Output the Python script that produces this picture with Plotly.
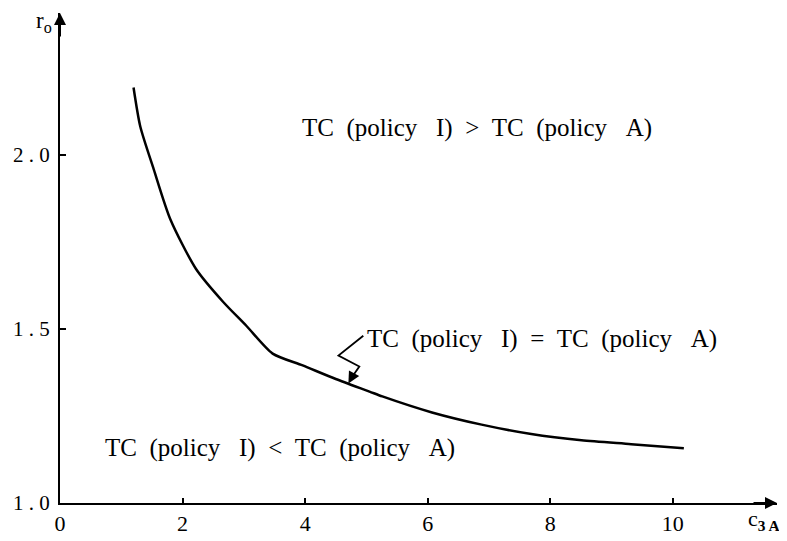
import plotly.graph_objects as go

# ---- data ----
c3A = [1.20, 1.31, 1.53, 1.80, 2.22, 2.66, 3.04, 3.47, 3.96, 4.50, 5.05,
       5.26, 6.07, 6.88, 7.69, 8.51, 9.32, 10.18]
r0 = [2.193, 2.081, 1.958, 1.815, 1.672, 1.578, 1.509, 1.429, 1.395, 1.356,
      1.320, 1.306, 1.260, 1.225, 1.198, 1.180, 1.169, 1.157]
x_ticks = [0, 2, 4, 6, 8, 10]
y_ticks = [1.0, 1.5, 2.0]
y_ticktext = ["1\u00a0.\u00a00", "1\u00a0.\u00a05", "2\u00a0.\u00a00"]

# page has an 8px body margin, so the figure is offset by 8px
OFF = 8
W, H = 787 - OFF, 541 - OFF
ML, MR, MT, MB = 56 - OFF, 10, 13 - OFF, 36
PW, PH = W - ML - MR, H - MT - MB

def px(x):  # page pixel -> paper
    return (x - 56) / PW

def py(y):
    return (505 - y) / PH

FONT = "Liberation Serif, Times New Roman, serif"

fig = go.Figure()
fig.add_trace(go.Scatter(x=c3A, y=r0, mode="lines",
                         line=dict(color="black", width=2.5, shape="spline", smoothing=0.7),
                         showlegend=False, hoverinfo="skip"))

fig.update_layout(
    width=W, height=H,
    margin=dict(l=ML, r=MR, t=MT, b=MB),
    paper_bgcolor="white", plot_bgcolor="white",
    font=dict(family=FONT, color="black", size=21),
    xaxis=dict(range=[0, 11.70], tickvals=x_ticks, ticks="inside", ticklen=5,
               tickwidth=1.5, tickcolor="black", showline=True, linecolor="black",
               linewidth=2, showgrid=False, zeroline=False,
               tickfont=dict(family=FONT, size=22)),
    yaxis=dict(range=[1.0, 2.407], tickvals=y_ticks, ticktext=y_ticktext, ticks="inside",
               ticklen=6, tickwidth=1.5, tickcolor="black", showline=True,
               linecolor="black", linewidth=2, showgrid=False, zeroline=False,
               tickfont=dict(family=FONT, size=21), ticklabelstandoff=4),
)

# axis arrows
fig.add_annotation(x=0, y=1.0, xref="paper", yref="paper", ax=0, ay=25,
                   showarrow=True, arrowhead=2, arrowsize=1.2, arrowwidth=2,
                   arrowcolor="black", text="")
fig.add_annotation(x=1.0, y=0, xref="paper", yref="paper", ax=-25, ay=0,
                   showarrow=True, arrowhead=2, arrowsize=1.2, arrowwidth=2,
                   arrowcolor="black", text="")

# axis titles
fig.add_annotation(x=px(50), y=py(22), xref="paper", yref="paper", xanchor="right",
                   yanchor="middle", showarrow=False, text="r<sub>o</sub>",
                   font=dict(family=FONT, size=23))
fig.add_annotation(x=px(764), y=py(522), xref="paper", yref="paper", xanchor="center",
                   yanchor="middle", showarrow=False, text="c<sub><b>3 A</b></sub>",
                   font=dict(family=FONT, size=22))

NB = "\u00a0"
lab_font = dict(family=FONT, size=25, color="black")

def label(rel):
    return (f"TC{NB}{NB}(policy{NB}{NB}{NB}I){NB}{NB}{rel}{NB}{NB}TC{NB}{NB}"
            f"(policy{NB}{NB}{NB}A)")

fig.add_annotation(x=px(475), y=py(128), xref="paper", yref="paper", showarrow=False,
                   xanchor="center", yanchor="middle", text=label("&gt;"), font=lab_font)
fig.add_annotation(x=px(541), y=py(340), xref="paper", yref="paper", showarrow=False,
                   xanchor="center", yanchor="middle", text=label("="), font=lab_font)
fig.add_annotation(x=px(277), y=py(450), xref="paper", yref="paper", showarrow=False,
                   xanchor="center", yanchor="middle", text=label("&lt;"), font=lab_font)

# zigzag pointer
pts = [(361, 337), (336, 357), (357, 368), (350, 378)]
path = "M " + " L ".join(f"{px(a)},{py(b)}" for a, b in pts)
fig.add_shape(type="path", path=path, xref="paper", yref="paper",
              line=dict(color="black", width=1.8))
fig.add_annotation(x=px(346), y=py(385), xref="paper", yref="paper",
                   ax=5, ay=-9, axref="pixel", ayref="pixel",
                   showarrow=True, arrowhead=2, arrowsize=1.3, arrowwidth=1.8,
                   arrowcolor="black", text="")

fig.write_html("out.html")
